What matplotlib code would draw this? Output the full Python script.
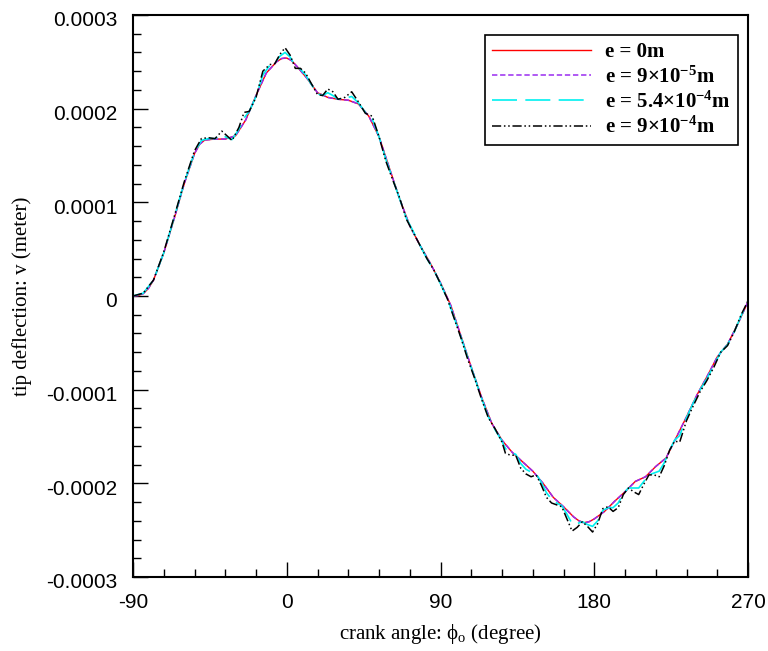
import matplotlib
matplotlib.use("Agg")
import matplotlib.pyplot as plt
from matplotlib.ticker import MultipleLocator, FixedLocator, FixedFormatter
from matplotlib.transforms import ScaledTranslation

# crank angle grids (degree)
ANGLE_COARSE = [-90, -87, -84, -81, -78, -72, -66, -60, -54, -51, -48, -42, -36, -30,
                -24, -18, -12, -6, -3, 0, 3, 6, 12, 18, 24, 30, 36, 42, 48, 54, 60, 66,
                72, 78, 84, 90, 96, 102, 108, 114, 120, 126, 132, 138, 144, 150, 156,
                162, 168, 171, 174, 177, 180, 186, 192, 198, 204, 210, 216, 222, 228,
                234, 240, 246, 252, 258, 264, 270]
ANGLE_FINE = [-90, -84, -78, -72, -66, -60, -54, -50, -46, -42, -38, -35, -32, -28,
              -25, -22, -18, -14, -10, -7, -4, -1, 2, 5, 8, 11, 14, 18, 21, 24, 27,
              30, 34, 38, 42, 46, 50, 54, 58, 62, 66, 70, 74, 78, 82, 86, 90, 94, 98,
              102, 106, 110, 114, 118, 122, 126, 128, 131, 134, 137, 140, 143, 146,
              149, 152, 155, 158, 161, 164, 167, 170, 173, 176, 179, 182, 185, 188,
              191, 194, 197, 200, 203, 206, 209, 212, 215, 218, 221, 224, 227, 230,
              234, 238, 242, 246, 250, 254, 258, 262, 266, 270]

# tip deflection, in units of 1e-4 m
V_E0 = [0.0, 0.005, 0.025, 0.08, 0.17, 0.46, 0.82, 1.20, 1.52, 1.62, 1.665, 1.675,
        1.675, 1.71, 1.88, 2.14, 2.38, 2.50, 2.535, 2.54, 2.51, 2.45, 2.32, 2.17, 2.12,
        2.10, 2.09, 2.05, 1.92, 1.70, 1.37, 1.04, 0.75, 0.54, 0.35, 0.14, -0.10, -0.43,
        -0.76, -1.08, -1.36, -1.54, -1.67, -1.77, -1.87, -2.00, -2.15, -2.25, -2.36,
        -2.40, -2.42, -2.41, -2.38, -2.30, -2.19, -2.09, -1.98, -1.93, -1.82, -1.73,
        -1.51, -1.29, -1.06, -0.86, -0.65, -0.515, -0.30, -0.06]
V_E9E5 = [0.0, 0.005, 0.025, 0.08, 0.17, 0.46, 0.82, 1.20, 1.52, 1.62, 1.665, 1.675,
          1.675, 1.71, 1.88, 2.14, 2.38, 2.50, 2.535, 2.545, 2.51, 2.45, 2.32, 2.17, 2.12,
          2.10, 2.09, 2.05, 1.92, 1.70, 1.37, 1.04, 0.75, 0.54, 0.35, 0.14, -0.10, -0.43,
          -0.76, -1.08, -1.36, -1.54, -1.67, -1.77, -1.87, -2.00, -2.15, -2.25, -2.36,
          -2.40, -2.425, -2.41, -2.38, -2.30, -2.19, -2.09, -1.98, -1.93, -1.82, -1.73,
          -1.51, -1.29, -1.06, -0.86, -0.65, -0.515, -0.30, -0.06]
V_E54E4 = [0.0, 0.03, 0.17, 0.46, 0.83, 1.21, 1.53, 1.66, 1.68, 1.68, 1.72, 1.69, 1.67,
           1.78, 1.90, 1.97, 2.13, 2.36, 2.46, 2.49, 2.56, 2.60, 2.55, 2.45, 2.42, 2.36,
           2.27, 2.16, 2.14, 2.17, 2.14, 2.10, 2.11, 2.13, 2.06, 1.96, 1.89, 1.70, 1.46,
           1.25, 1.04, 0.83, 0.69, 0.54, 0.40, 0.28, 0.13, -0.03, -0.23, -0.44, -0.66,
           -0.87, -1.09, -1.29, -1.43, -1.55, -1.63, -1.67, -1.69, -1.79, -1.85, -1.88,
           -1.90, -1.99, -2.10, -2.17, -2.21, -2.24, -2.33, -2.43, -2.43, -2.41, -2.44,
           -2.46, -2.40, -2.29, -2.26, -2.26, -2.21, -2.11, -2.05, -2.05, -2.05, -1.98,
           -1.91, -1.89, -1.87, -1.78, -1.65, -1.54, -1.49, -1.30, -1.14, -1.00, -0.88,
           -0.74, -0.60, -0.52, -0.38, -0.21, -0.06]
V_E9E4 = [0.0, 0.03, 0.17, 0.47, 0.84, 1.22, 1.55, 1.68, 1.69, 1.68, 1.76, 1.71, 1.66,
          1.80, 1.96, 1.97, 2.12, 2.40, 2.47, 2.48, 2.58, 2.65, 2.57, 2.43, 2.43, 2.38,
          2.28, 2.15, 2.14, 2.21, 2.18, 2.10, 2.12, 2.18, 2.07, 1.95, 1.92, 1.70, 1.44,
          1.24, 1.05, 0.82, 0.68, 0.54, 0.40, 0.28, 0.13, -0.03, -0.24, -0.45, -0.68,
          -0.88, -1.10, -1.30, -1.42, -1.56, -1.68, -1.70, -1.70, -1.84, -1.90, -1.93,
          -1.91, -2.02, -2.15, -2.21, -2.23, -2.25, -2.38, -2.51, -2.47, -2.41, -2.46,
          -2.52, -2.43, -2.27, -2.25, -2.30, -2.26, -2.12, -2.05, -2.09, -2.12, -2.01,
          -1.91, -1.91, -1.93, -1.81, -1.65, -1.55, -1.56, -1.33, -1.17, -1.02, -0.90,
          -0.76, -0.60, -0.53, -0.38, -0.20, -0.05]

X_TICKS = [-90, 0, 90, 180, 270]
Y_TICKS = [-0.0003, -0.0002, -0.0001, 0.0, 0.0001, 0.0002, 0.0003]
Y_TICK_LABELS = ["-0.0003", "-0.0002", "-0.0001", "0", "0.0001", "0.0002", "0.0003"]

SERIES = [
    (ANGLE_COARSE, V_E0, "e = 0m", "#ff0000", "-", 1.0),
    (ANGLE_COARSE, V_E9E5, "e = 9\u00d7$\\mathregular{10^{-5}}$m", "#9a2cf0", (0, (3.5, 1.8)), 1.1),
    (ANGLE_FINE, V_E54E4, "e = 5.4\u00d7$\\mathregular{10^{-4}}$m", "#00f0f0", (0, (15, 5)), 1.2),
    (ANGLE_FINE, V_E9E4, "e = 9\u00d7$\\mathregular{10^{-4}}$m", "#000000", (0, (6, 1.8, 1, 1.8, 1, 1.8)), 1.1),
]

fig = plt.figure(figsize=(7.68, 6.51), dpi=100, facecolor="white")
ax = fig.add_axes([0.1732, 0.1137, 0.8008, 0.8633])

for ang, vals, label, color, ls, lw in SERIES:
    ax.plot(ang, [v * 1e-4 for v in vals], color=color, linestyle=ls,
            linewidth=lw, label=label)

ax.set_xlim(-90, 270)
ax.set_ylim(-0.0003, 0.0003)
ax.xaxis.set_major_locator(FixedLocator(X_TICKS))
ax.xaxis.set_major_formatter(FixedFormatter([str(t) for t in X_TICKS]))
ax.xaxis.set_minor_locator(MultipleLocator(18))
ax.yaxis.set_major_locator(FixedLocator(Y_TICKS))
ax.yaxis.set_major_formatter(FixedFormatter(Y_TICK_LABELS))
ax.yaxis.set_minor_locator(MultipleLocator(0.00002))

ax.tick_params(which="both", direction="in", top=False, right=False, width=1.0)
ax.tick_params(which="major", length=11, pad=11.5, labelsize=15)
ax.tick_params(which="minor", length=6)
for sp in ax.spines.values():
    sp.set_linewidth(1.5)

# y tick labels sit a little below their ticks
shift = ScaledTranslation(0, -4 / 100, fig.dpi_scale_trans)
for tick in ax.xaxis.get_major_ticks() + ax.yaxis.get_major_ticks():
    tick.label1.set_fontfamily("Liberation Sans")
for tick in ax.yaxis.get_major_ticks():
    tick.label1.set_transform(tick.label1.get_transform() + shift)

ax.set_xlabel("crank angle: $\\mathregular{\\phi_o}$ (degree)",
              fontfamily="Liberation Serif", fontsize=15)
ax.set_ylabel("tip deflection: v (meter)", fontfamily="Liberation Serif",
              fontsize=15)
ax.xaxis.set_label_coords(0.5, -0.080)
ax.yaxis.set_label_coords(-0.164, 0.5)

leg = ax.legend(loc="upper right", bbox_to_anchor=(0.9835, 0.965),
                prop={"family": "Liberation Serif", "weight": "bold", "size": 15},
                fancybox=False, frameon=True, edgecolor="black", framealpha=1,
                handlelength=4.75, handletextpad=0.65, labelspacing=0.2,
                borderpad=0.35, borderaxespad=0)
leg.get_frame().set_linewidth(1.2)

fig.savefig("out.png", dpi=100, facecolor="white")
